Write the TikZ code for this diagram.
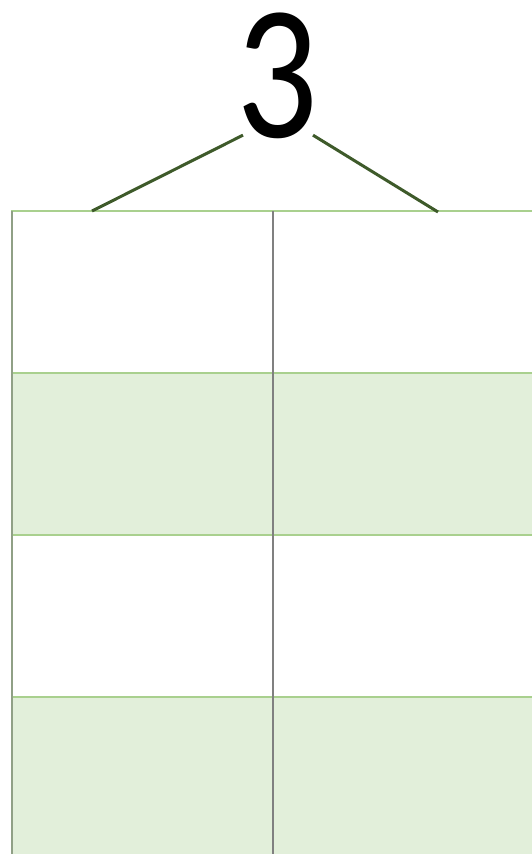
\documentclass[tikz,border=0pt]{standalone}
\usepackage{fontspec}
\setmainfont{Carlito}
\usetikzlibrary{positioning}
\definecolor{bandgreen}{RGB}{226,239,218}
\definecolor{rulegreen}{RGB}{169,208,142}
\definecolor{stemgreen}{RGB}{62,90,42}
\definecolor{dividergray}{RGB}{128,128,128}
\tikzset{
    cellbox/.style={rectangle, draw=rulegreen, line width=1.5pt, fill=white,
                    minimum width=261pt, minimum height=162pt,
                    inner sep=0pt, outer sep=0pt},
    bandbox/.style={cellbox, fill=bandgreen},
    stem/.style={line width=3pt, color=stemgreen},
    divider/.style={line width=1.5pt, color=dividergray},
    digit/.style={font=\fontsize{192}{196}\selectfont, inner sep=0pt}
}

\begin{document}
\begin{tikzpicture}[x=1pt, y=-1pt, node distance=0pt]
    \useasboundingbox (0,0) rectangle (532,854);

    % the two columns, rows alternating white / green
    \node[cellbox, anchor=north west] (c11) at (12,211) {};
    \node[cellbox, right=of c11] (c12) {};
    \node[bandbox, below=of c11] (c21) {};
    \node[bandbox, right=of c21] (c22) {};
    \node[cellbox, below=of c21] (c31) {};
    \node[cellbox, right=of c31] (c32) {};
    \node[bandbox, below=of c31] (c41) {};
    \node[bandbox, right=of c41] (c42) {};

    \draw[divider] (c11.north east) -- (c41.south east);
    \draw[divider, color=dividergray!60!rulegreen] (c11.north west) -- (c41.south west);

    % the number and its two legs
    \node[digit] (num) at (277,76) {\scalebox{0.84}[1]{3}};
    \coordinate (lfoot) at (92,211);
    \coordinate (rfoot) at (438,212);
    \draw[stem] ([xshift=-34pt, yshift=4pt]num.south) -- (lfoot);
    \draw[stem] ([xshift=36pt, yshift=4pt]num.south) -- (rfoot);
\end{tikzpicture}
\end{document}
